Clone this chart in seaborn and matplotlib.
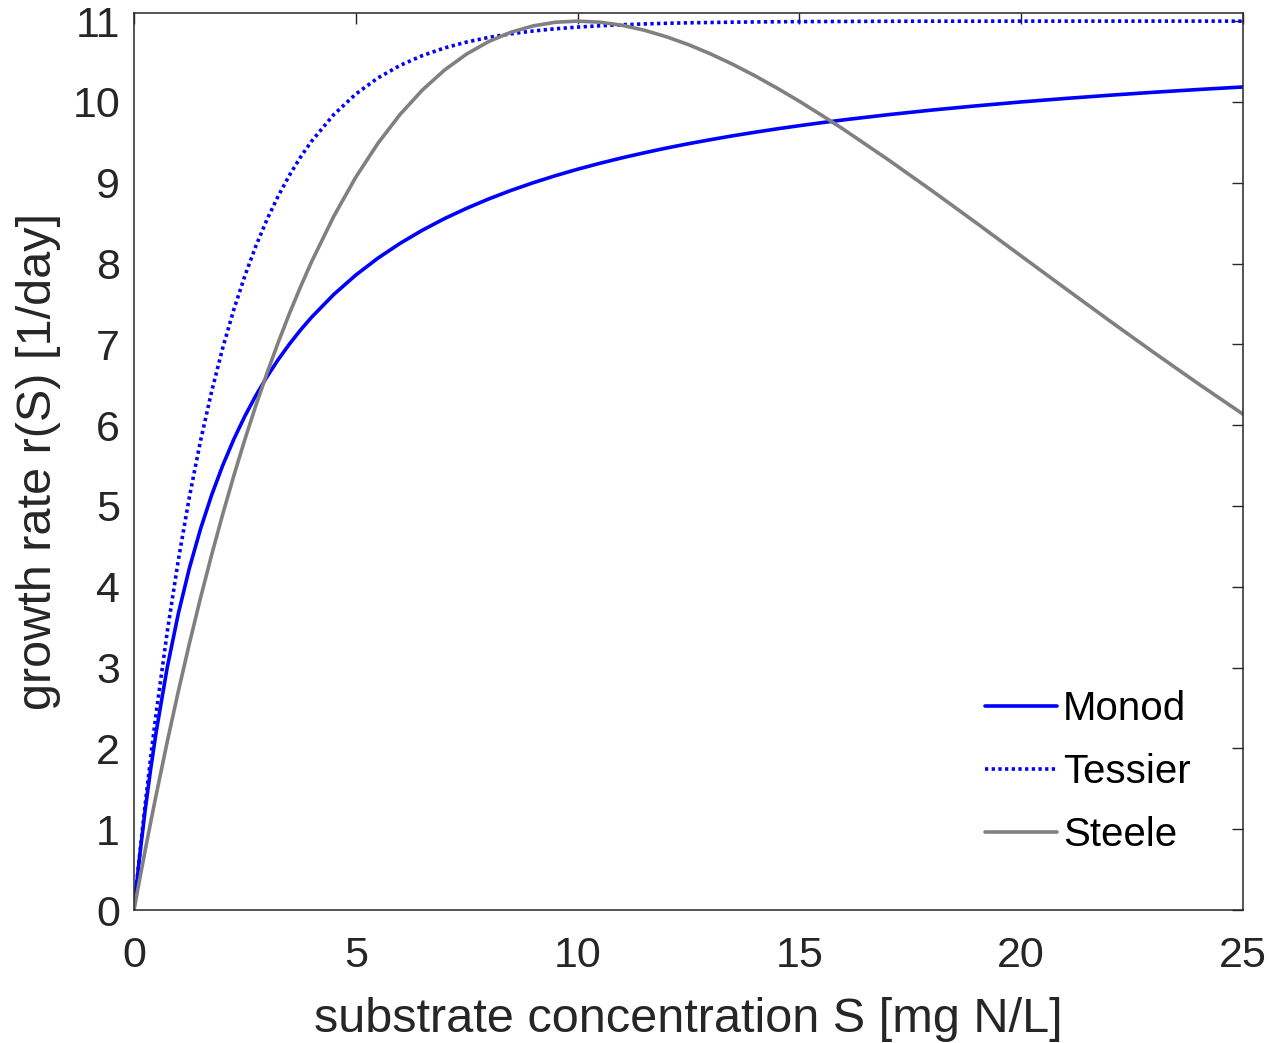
import numpy as np
import pandas as pd
import seaborn as sns
from matplotlib import pyplot as plt

# substrate concentration S [mg N/L]
S = [0, 0.125, 0.25, 0.375, 0.5, 0.75, 1, 1.25, 1.5, 1.75, 2, 2.25, 2.5, 2.75,
     3, 3.25, 3.5, 3.75, 4, 4.5, 5, 5.5, 6, 6.5, 7, 7.5, 8, 8.5, 9, 9.5, 10,
     10.5, 11, 11.5, 12, 12.5, 13, 13.5, 14, 14.5, 15, 15.5, 16, 17, 18, 19,
     20, 21, 22, 23, 24, 25]

monod = [0, 0.647, 1.222, 1.737, 2.2, 3.0, 3.667, 4.231, 4.714, 5.133, 5.5,
         5.824, 6.111, 6.368, 6.6, 6.81, 7.0, 7.174, 7.333, 7.615, 7.857, 8.067,
         8.25, 8.412, 8.556, 8.684, 8.8, 8.905, 9.0, 9.087, 9.167, 9.24, 9.308,
         9.37, 9.429, 9.483, 9.533, 9.581, 9.625, 9.667, 9.706, 9.743, 9.778,
         9.842, 9.9, 9.952, 10.0, 10.043, 10.083, 10.12, 10.154, 10.185]

tessier = [0, 0.667, 1.292, 1.881, 2.433, 3.44, 4.328, 5.112, 5.804, 6.414,
           6.953, 7.428, 7.848, 8.219, 8.546, 8.834, 9.088, 9.313, 9.511, 9.841,
           10.097, 10.297, 10.452, 10.573, 10.668, 10.741, 10.799, 10.843, 10.878,
           10.905, 10.926, 10.942, 10.955, 10.965, 10.973, 10.979, 10.983, 10.987,
           10.99, 10.992, 10.994, 10.995, 10.996, 10.998, 10.999, 10.999, 11.0,
           11.0, 11.0, 11.0, 11.0, 11.0]

steele = [0, 0.369, 0.729, 1.08, 1.422, 2.081, 2.706, 3.298, 3.86, 4.392, 4.896,
          5.372, 5.822, 6.246, 6.645, 7.021, 7.375, 7.706, 8.017, 8.58, 9.068,
          9.488, 9.846, 10.146, 10.394, 10.593, 10.748, 10.863, 10.941, 10.986,
          11.0, 10.987, 10.949, 10.888, 10.807, 10.709, 10.594, 10.465, 10.323,
          10.17, 10.008, 9.836, 9.659, 9.286, 8.897, 8.498, 8.093, 7.69, 7.289,
          6.895, 6.51, 6.136]

df = pd.DataFrame({'S': S, 'Monod': monod, 'Tessier': tessier, 'Steele': steele})
long = df.melt(id_vars='S', var_name='model', value_name='r')

sns.set_theme(style='white')
plt.rcParams['font.family'] = ['Liberation Sans', 'DejaVu Sans']
txt = '#262626'

fig = plt.figure(figsize=(12.72, 10.43), dpi=100)
ax = fig.add_axes([0.1053, 0.1275, 0.8719, 0.86])

sns.lineplot(data=long, x='S', y='r', hue='model', style='model',
             hue_order=['Monod', 'Tessier', 'Steele'],
             palette={'Monod': '#0000ff', 'Tessier': '#0000ff', 'Steele': '#808080'},
             dashes={'Monod': '', 'Tessier': (0.9, 0.95), 'Steele': ''},
             linewidth=2.6, ax=ax)

ax.set_xlim(0, 25)
ax.set_ylim(0, 11.1)
ax.set_xticks([0, 5, 10, 15, 20, 25])
ax.set_yticks(range(0, 12))
ax.tick_params(direction='in', length=8, width=1, colors=txt, labelsize=31,
               top=True, right=True, pad=10)
ax.tick_params(axis='x', pad=19)
for sp in ax.spines.values():
    sp.set_color(txt)
    sp.set_linewidth(1.1)

ax.set_xlabel('substrate concentration S [mg N/L]', fontsize=35, color=txt, labelpad=15)
ax.set_ylabel('growth rate r(S) [1/day]', fontsize=35, color=txt, labelpad=8)

leg = ax.legend(loc='upper left', frameon=False, fontsize=29, handlelength=1.79,
                handletextpad=0.15, labelspacing=0.62, borderpad=0,
                bbox_to_anchor=(0.767, 0.2455), borderaxespad=0)
for t in leg.get_texts():
    t.set_color('black')

fig.savefig('out.png', dpi=100)
